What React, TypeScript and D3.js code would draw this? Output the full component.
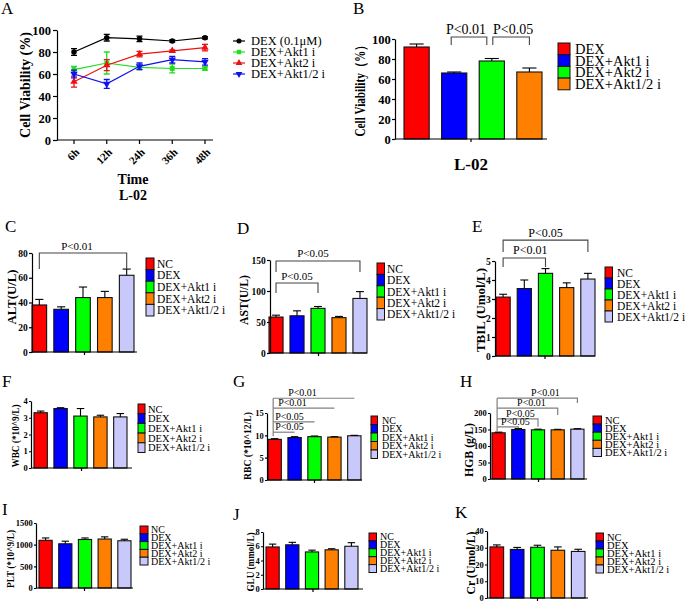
import React, { useEffect, useRef } from "react";
import * as d3 from "d3";

const FONT = "'Liberation Serif', 'Times New Roman', serif";

// Panel A: cell viability over time
const timePoints = ["6h", "12h", "24h", "36h", "48h"];
const lineSeries = ["DEX (0.1μM)", "DEX+Akt1 i", "DEX+Akt2 i", "DEX+Akt1/2 i"];
const dexLine = [80, 93, 92, 90, 93];
const dexLineErr = [3, 3, 2.5, 1, 1];
const akt1Line = [64, 70, 66, 65, 65];
const akt1LineErr = [3, 10, 2, 4, 1.5];
const akt2Line = [53, 68, 78, 81, 84];
const akt2LineErr = [5, 5, 2.5, 1, 3];
const akt12Line = [60, 51, 67, 73, 71];
const akt12LineErr = [3.5, 4, 3, 3, 3];
const viabilityTicks = [0, 20, 40, 60, 80, 100];

// Panel B
const groupsB = ["DEX", "DEX+Akt1 i", "DEX+Akt2 i", "DEX+Akt1/2 i"];
const viabilityB = [92, 66, 78, 67];
const viabilityBErr = [3, 1, 2.5, 4];

// Panels C-K
const groups = ["NC", "DEX", "DEX+Akt1 i", "DEX+Akt2 i", "DEX+Akt1/2 i"];
const altValues = [38, 34.5, 44, 44, 62];
const altErr = [4.5, 2, 8.5, 5, 5];
const altTicks = [0, 20, 40, 60, 80];
const astValues = [58, 60, 72, 57, 88];
const astErr = [3, 8, 3, 2, 11];
const astTicks = [0, 50, 100, 150];
const tbilValues = [3.1, 3.55, 4.35, 3.6, 4.05];
const tbilErr = [0.15, 0.45, 0.25, 0.25, 0.3];
const tbilTicks = [0, 1, 2, 3, 4, 5];
const wbcValues = [3.3, 3.55, 3.1, 3.05, 3.05];
const wbcErr = [0.1, 0.05, 0.45, 0.1, 0.2];
const wbcTicks = [0, 1, 2, 3, 4];
const rbcValues = [9.1, 9.5, 9.7, 9.6, 9.9];
const rbcErr = [0.15, 0.2, 0.15, 0.1, 0.1];
const rbcTicks = [0, 5, 10, 15];
const hgbValues = [140, 150, 149, 149, 151];
const hgbErr = [2, 3, 2, 1.5, 1.5];
const hgbTicks = [0, 50, 100, 150, 200];
const pltValues = [1100, 1020, 1120, 1130, 1090];
const pltErr = [55, 60, 35, 50, 35];
const pltTicks = [0, 500, 1000, 1500];
const gluValues = [5.9, 6.2, 5.2, 5.5, 6.0];
const gluErr = [0.4, 0.35, 0.25, 0.15, 0.5];
const gluTicks = [0, 2, 4, 6, 8];
const crValues = [30.5, 29, 30.3, 28.5, 27.8];
const crErr = [1.2, 1.2, 1.2, 2, 1.3];
const crTicks = [0, 10, 20, 30, 40];

const barColors = ["#ff0000", "#0000ff", "#00ff00", "#ff8000", "#c8c8fa"];
const lineColors = ["#000000", "#22dd22", "#ee1111", "#1111ee"];

type Bracket = {
  from: number; to: number; y: number; legs: [number, number]; label: string;
  fromDx?: number; toDx?: number; dx?: number;
};
type StackLine = { to: number; y: number; leg?: number; label: string; dx: number };

interface BarPanel {
  letter: string; letterX: number; letterY: number;
  cats: string[]; values: number[]; errors: number[]; ticks: number[];
  axisX: number; axisEnd: number; yBottom: number; yTop: number;
  barStart: number; barEnd: number;
  tickFont: number; tickSize?: number;
  yLabel: string; yLabelX: number; yLabelY: number; yLabelLen: number; yLabelSize: number;
  legendX: number; legendY: number; legendRow: number; legendBox: number;
  legendTextX: number; legendFont: number;
  brackets?: Bracket[]; bracketFont?: number;
  stack?: { bottom: number; lines: StackLine[]; color: string; font: number };
  xLabel?: string; xLabelY?: number; xLabelSize?: number;
}

const panels: BarPanel[] = [
  {
    letter: "B", letterX: 353, letterY: 14, cats: groupsB, values: viabilityB, errors: viabilityBErr,
    ticks: viabilityTicks, axisX: 395, axisEnd: 547, yBottom: 139, yTop: 39, barStart: 404, barEnd: 542,
    tickFont: 12.5, tickSize: 3, yLabel: "Cell Viability（%）", yLabelX: 360, yLabelY: 88, yLabelLen: 97, yLabelSize: 14,
    legendX: 558, legendY: 43, legendRow: 11.7, legendBox: 12, legendTextX: 575, legendFont: 14.5,
    brackets: [
      { from: 1, to: 2, y: 102, legs: [94, 94], label: "P<0.01", fromDx: -3, toDx: -5, dx: -3 },
      { from: 2, to: 3, y: 102, legs: [94, 94], label: "P<0.05", fromDx: 1, toDx: 0, dx: 2 },
    ],
    bracketFont: 14, xLabel: "L-02", xLabelY: 170, xLabelSize: 17,
  },
  {
    letter: "C", letterX: 5, letterY: 232, cats: groups, values: altValues, errors: altErr, ticks: altTicks,
    axisX: 32, axisEnd: 137, yBottom: 352, yTop: 253, barStart: 32, barEnd: 134, tickFont: 9.5,
    yLabel: "ALT(U/L)", yLabelX: 12, yLabelY: 297, yLabelLen: 55, yLabelSize: 12,
    legendX: 146, legendY: 258, legendRow: 11.6, legendBox: 8, legendTextX: 157, legendFont: 11.5,
    brackets: [{ from: 0, to: 4, y: 80, legs: [67, 67], label: "P<0.01", dx: -6 }], bracketFont: 11,
  },
  {
    letter: "D", letterX: 237, letterY: 234, cats: groups, values: astValues, errors: astErr, ticks: astTicks,
    axisX: 270, axisEnd: 367, yBottom: 353, yTop: 260, barStart: 269, barEnd: 367, tickFont: 9.5,
    yLabel: "AST(U/L)", yLabelX: 244, yLabelY: 300, yLabelLen: 50, yLabelSize: 11.5,
    legendX: 377, legendY: 263, legendRow: 11.4, legendBox: 7.5, legendTextX: 387, legendFont: 11.5,
    brackets: [
      { from: 0, to: 4, y: 148.4, legs: [130.6, 130.6], label: "P<0.05", dx: -5 },
      { from: 0, to: 2, y: 112.9, legs: [96.8, 96.8], label: "P<0.05", dx: 0 },
    ],
    bracketFont: 11,
  },
  {
    letter: "E", letterX: 472, letterY: 232, cats: groups, values: tbilValues, errors: tbilErr, ticks: tbilTicks,
    axisX: 495, axisEnd: 595, yBottom: 356, yTop: 261, barStart: 496, barEnd: 595, tickFont: 9.5,
    yLabel: "TBIL (Umol/L)", yLabelX: 481, yLabelY: 310, yLabelLen: 84, yLabelSize: 12.5,
    legendX: 605, legendY: 267, legendRow: 11, legendBox: 7.5, legendTextX: 617, legendFont: 11.5,
    brackets: [
      { from: 0, to: 4, y: 6.1, legs: [5.47, 5.47], label: "P<0.05", dx: 0 },
      { from: 0, to: 2, y: 5.16, legs: [4.68, 4.68], label: "P<0.01", dx: 6 },
    ],
    bracketFont: 12,
  },
  {
    letter: "F", letterX: 2, letterY: 387, cats: groups, values: wbcValues, errors: wbcErr, ticks: wbcTicks,
    axisX: 31, axisEnd: 132, yBottom: 468, yTop: 401, barStart: 34, barEnd: 127, tickFont: 8.5, tickSize: 2,
    yLabel: "WBC (*10^9/L)", yLabelX: 16, yLabelY: 436, yLabelLen: 63, yLabelSize: 9.5,
    legendX: 138, legendY: 404, legendRow: 9.7, legendBox: 7, legendTextX: 148, legendFont: 10.5,
  },
  {
    letter: "G", letterX: 233, letterY: 387, cats: groups, values: rbcValues, errors: rbcErr, ticks: rbcTicks,
    axisX: 267, axisEnd: 362, yBottom: 480, yTop: 413, barStart: 268, barEnd: 361, tickFont: 8.5, tickSize: 2,
    yLabel: "RBC (*10^12/L)", yLabelX: 248, yLabelY: 446, yLabelLen: 68, yLabelSize: 9.5,
    legendX: 371, legendY: 416, legendRow: 8.5, legendBox: 6.5, legendTextX: 382, legendFont: 10,
    stack: {
      bottom: 9.8, color: "#808080", font: 10,
      lines: [
        { to: 4, y: 18.3, label: "P<0.01", dx: 15 },
        { to: 3, y: 16.1, label: "P<0.01", dx: 5 },
        { to: 2, y: 13.0, label: "P<0.05", dx: 2 },
        { to: 1, y: 10.7, label: "P<0.05", dx: 2 },
      ],
    },
  },
  {
    letter: "H", letterX: 460, letterY: 387, cats: groups, values: hgbValues, errors: hgbErr, ticks: hgbTicks,
    axisX: 490, axisEnd: 587, yBottom: 479, yTop: 413, barStart: 492, barEnd: 584, tickFont: 8.5, tickSize: 2,
    yLabel: "HGB (g/L)", yLabelX: 469, yLabelY: 450, yLabelLen: 54, yLabelSize: 11.5,
    legendX: 593, legendY: 416, legendRow: 8.1, legendBox: 8.5, legendTextX: 605, legendFont: 10.5,
    stack: {
      bottom: 143, color: "#808080", font: 10,
      lines: [
        { to: 4, y: 245, leg: 230, label: "P<0.01", dx: 34 },
        { to: 3, y: 215, leg: 194, label: "P<0.01", dx: 20 },
        { to: 2, y: 182, leg: 158, label: "P<0.05", dx: 9 },
        { to: 1, y: 158, leg: 154, label: "P<0.05", dx: 4 },
      ],
    },
  },
  {
    letter: "I", letterX: 2, letterY: 515, cats: groups, values: pltValues, errors: pltErr, ticks: pltTicks,
    axisX: 36, axisEnd: 133, yBottom: 588, yTop: 523, barStart: 39, barEnd: 131, tickFont: 8.5, tickSize: 2,
    yLabel: "PLT (*10^9/L)", yLabelX: 11, yLabelY: 559, yLabelLen: 58, yLabelSize: 9.5,
    legendX: 140, legendY: 526, legendRow: 7.8, legendBox: 8, legendTextX: 151, legendFont: 10,
  },
  {
    letter: "J", letterX: 233, letterY: 520, cats: groups, values: gluValues, errors: gluErr, ticks: gluTicks,
    axisX: 263, axisEnd: 363, yBottom: 589, yTop: 532, barStart: 266, barEnd: 358, tickFont: 8.5, tickSize: 2,
    yLabel: "GLU (mmol/L)", yLabelX: 251, yLabelY: 562, yLabelLen: 59, yLabelSize: 9.5,
    legendX: 369, legendY: 533, legendRow: 7.9, legendBox: 7.5, legendTextX: 380, legendFont: 10,
  },
  {
    letter: "K", letterX: 455, letterY: 518, cats: groups, values: crValues, errors: crErr, ticks: crTicks,
    axisX: 487, axisEnd: 588, yBottom: 598, yTop: 531, barStart: 490, barEnd: 585, tickFont: 8.5, tickSize: 2,
    yLabel: "Cr (Umol/L)", yLabelX: 471, yLabelY: 563, yLabelLen: 63, yLabelSize: 11.5,
    legendX: 596, legendY: 533, legendRow: 8, legendBox: 7.5, legendTextX: 607, legendFont: 10.5,
  },
];

type Sel = d3.Selection<SVGGElement, unknown, null, undefined>;

function styleAxis(ax: Sel, size: number) {
  ax.attr("font-family", FONT).attr("font-size", size).attr("font-weight", "bold");
  ax.selectAll("path,line").attr("stroke", "#000").attr("stroke-width", 1.2);
  ax.selectAll("text").attr("fill", "#000");
}

function drawLetter(g: Sel, letter: string, x: number, y: number) {
  g.append("text").attr("x", x).attr("y", y).attr("font-size", 17).text(letter);
}

function drawYLabel(g: Sel, text: string, x: number, y: number, len: number, size: number) {
  g.append("text")
    .attr("transform", `translate(${x},${y}) rotate(-90)`)
    .attr("text-anchor", "middle")
    .attr("dy", "0.35em")
    .attr("font-weight", "bold")
    .attr("font-size", size)
    .attr("textLength", len)
    .attr("lengthAdjust", "spacingAndGlyphs")
    .text(text);
}

function drawBarPanel(root: Sel, p: BarPanel) {
  const g = root.append("g");
  const x = d3.scaleBand<number>()
    .domain(d3.range(p.values.length))
    .range([p.barStart, p.barEnd])
    .paddingInner(0.33)
    .paddingOuter(0);
  const y = d3.scaleLinear().domain([0, p.ticks[p.ticks.length - 1]]).range([p.yBottom, p.yTop]);
  const cx = (i: number) => (x(i) || 0) + x.bandwidth() / 2;

  drawLetter(g, p.letter, p.letterX, p.letterY);

  // Bars
  g.selectAll("rect.bar")
    .data(p.values)
    .join("rect")
    .attr("x", (_, i) => x(i) || 0)
    .attr("y", (d) => y(d))
    .attr("width", x.bandwidth())
    .attr("height", (d) => p.yBottom - y(d))
    .attr("fill", (_, i) => barColors[i])
    .attr("stroke", "#111")
    .attr("stroke-width", 1.1);

  // Error bars (upper only)
  const cap = x.bandwidth() * 0.28;
  p.values.forEach((v, i) => {
    const top = y(v + p.errors[i]);
    g.append("line").attr("x1", cx(i)).attr("x2", cx(i)).attr("y1", y(v)).attr("y2", top)
      .attr("stroke", "#000").attr("stroke-width", 1.1);
    g.append("line").attr("x1", cx(i) - cap).attr("x2", cx(i) + cap).attr("y1", top).attr("y2", top)
      .attr("stroke", "#000").attr("stroke-width", 1.1);
  });

  // Y axis
  const yAx = g.append("g")
    .attr("transform", `translate(${p.axisX},0)`)
    .call(
      d3.axisLeft(y)
        .tickValues(p.ticks)
        .tickFormat((d) => String(d))
        .tickSize(p.tickSize ?? 3)
        .tickSizeOuter(0)
        .tickPadding(1.2)
    );
  styleAxis(yAx, p.tickFont);

  // X axis with single centre tick
  const xMid = (p.axisX + p.axisEnd) / 2;
  g.append("line").attr("x1", p.axisX).attr("x2", p.axisEnd).attr("y1", p.yBottom).attr("y2", p.yBottom)
    .attr("stroke", "#000").attr("stroke-width", 1.2);
  g.append("line").attr("x1", xMid).attr("x2", xMid).attr("y1", p.yBottom).attr("y2", p.yBottom + 3)
    .attr("stroke", "#000").attr("stroke-width", 1.2);

  drawYLabel(g, p.yLabel, p.yLabelX, p.yLabelY, p.yLabelLen, p.yLabelSize);

  if (p.xLabel) {
    g.append("text").attr("x", xMid).attr("y", p.xLabelY || 0).attr("text-anchor", "middle")
      .attr("font-weight", "bold").attr("font-size", p.xLabelSize || 14).text(p.xLabel);
  }

  // Legend
  p.cats.forEach((c, i) => {
    const ty = p.legendY + i * p.legendRow;
    g.append("rect").attr("x", p.legendX).attr("y", ty).attr("width", p.legendBox).attr("height", p.legendRow)
      .attr("fill", barColors[i]).attr("stroke", "#111").attr("stroke-width", 1);
    g.append("text").attr("x", p.legendTextX).attr("y", ty + p.legendRow / 2).attr("dy", "0.35em")
      .attr("font-size", p.legendFont).text(c);
  });

  // Significance brackets
  (p.brackets || []).forEach((b) => {
    const x1 = cx(b.from) + (b.fromDx || 0);
    const x2 = cx(b.to) + (b.toDx || 0);
    const yy = y(b.y);
    g.append("path")
      .attr("d", `M${x1},${y(b.legs[0])}V${yy}H${x2}V${y(b.legs[1])}`)
      .attr("fill", "none").attr("stroke", "#444").attr("stroke-width", 1.1);
    g.append("text").attr("x", (x1 + x2) / 2 + (b.dx || 0)).attr("y", yy - 3.5)
      .attr("text-anchor", "middle").attr("font-size", p.bracketFont || 11).text(b.label);
  });

  if (p.stack) {
    const s = p.stack;
    const vx = cx(0) - 1.5;
    const topY = y(d3.max(s.lines, (l) => l.y) || 0);
    g.append("line").attr("x1", vx).attr("x2", vx).attr("y1", topY).attr("y2", y(s.bottom))
      .attr("stroke", s.color).attr("stroke-width", 1.2);
    s.lines.forEach((l) => {
      const yy = y(l.y);
      const x2 = cx(l.to);
      const d = l.leg !== undefined ? `M${vx},${yy}H${x2}V${y(l.leg)}` : `M${vx},${yy}H${x2}`;
      g.append("path").attr("d", d).attr("fill", "none").attr("stroke", s.color).attr("stroke-width", 1.2);
      g.append("text").attr("x", vx + l.dx).attr("y", yy - 1.8).attr("font-size", s.font).text(l.label);
    });
  }
}

function drawPanelA(root: Sel) {
  const g = root.append("g");
  const x = d3.scalePoint<string>().domain(timePoints).range([74, 205]);
  const y = d3.scaleLinear().domain([0, 100]).range([140, 30]);
  const seriesVals = [dexLine, akt1Line, akt2Line, akt12Line];
  const seriesErr = [dexLineErr, akt1LineErr, akt2LineErr, akt12LineErr];
  const symbols = [d3.symbolCircle, d3.symbolSquare, d3.symbolTriangle, d3.symbolTriangle];
  const rot = [0, 0, 0, 180];

  drawLetter(g, "A", 1, 14);

  const yAx = g.append("g").attr("transform", "translate(57,0)")
    .call(d3.axisLeft(y).tickValues(viabilityTicks).tickFormat((d) => String(d)).tickSize(4).tickSizeOuter(0).tickPadding(2));
  styleAxis(yAx, 12.5);

  g.append("line").attr("x1", 57).attr("x2", 213).attr("y1", 140).attr("y2", 140)
    .attr("stroke", "#000").attr("stroke-width", 1.2);
  timePoints.forEach((t) => {
    const px = x(t) || 0;
    g.append("line").attr("x1", px).attr("x2", px).attr("y1", 140).attr("y2", 144)
      .attr("stroke", "#000").attr("stroke-width", 1.2);
    g.append("text")
      .attr("transform", `translate(${px + 6},153) rotate(-45)`)
      .attr("text-anchor", "end").attr("font-weight", "bold").attr("font-size", 11).text(t);
  });

  g.append("text").attr("x", 133).attr("y", 184).attr("text-anchor", "middle")
    .attr("font-weight", "bold").attr("font-size", 14).text("Time");
  g.append("text").attr("x", 133).attr("y", 200).attr("text-anchor", "middle")
    .attr("font-weight", "bold").attr("font-size", 14).text("L-02");

  drawYLabel(g, "Cell Viability (%)", 25, 85, 106, 14.5);

  const line = d3.line<number>().x((_, i) => x(timePoints[i]) || 0).y((d) => y(d));
  seriesVals.forEach((vals, s) => {
    const col = lineColors[s];
    g.append("path").attr("d", line(vals) || "").attr("fill", "none").attr("stroke", col).attr("stroke-width", 1.2);
    vals.forEach((v, i) => {
      const px = x(timePoints[i]) || 0;
      const e = seriesErr[s][i];
      g.append("path")
        .attr("d", `M${px - 3},${y(v + e)}H${px + 3}M${px},${y(v + e)}V${y(v - e)}M${px - 3},${y(v - e)}H${px + 3}`)
        .attr("stroke", col).attr("stroke-width", 1.3).attr("fill", "none");
      g.append("path")
        .attr("d", d3.symbol().type(symbols[s]).size(24)() || "")
        .attr("transform", `translate(${px},${y(v)}) rotate(${rot[s]})`)
        .attr("fill", col);
    });
  });

  // Legend
  lineSeries.forEach((name, s) => {
    const ly = 41 + s * 11;
    const col = lineColors[s];
    g.append("line").attr("x1", 233).attr("x2", 245).attr("y1", ly).attr("y2", ly)
      .attr("stroke", col).attr("stroke-width", 1.2);
    g.append("path").attr("d", d3.symbol().type(symbols[s]).size(20)() || "")
      .attr("transform", `translate(239,${ly}) rotate(${rot[s]})`).attr("fill", col);
    g.append("text").attr("x", 251).attr("y", ly).attr("dy", "0.35em").attr("font-size", 12.5).text(name);
  });
}

const App: React.FC = () => {
  const ref = useRef<SVGSVGElement>(null);

  useEffect(() => {
    if (!ref.current) return;
    const svg = d3.select(ref.current);
    svg.selectAll("*").remove();
    const root = svg.append("g").attr("font-family", FONT).attr("fill", "#000") as unknown as Sel;
    drawPanelA(root);
    panels.forEach((p) => drawBarPanel(root, p));
  }, []);

  return (
    <div style={{ position: "absolute", left: 0, top: 0, background: "#fff" }}>
      <svg ref={ref} width={685} height={602} style={{ display: "block" }} />
    </div>
  );
};

export default App;
